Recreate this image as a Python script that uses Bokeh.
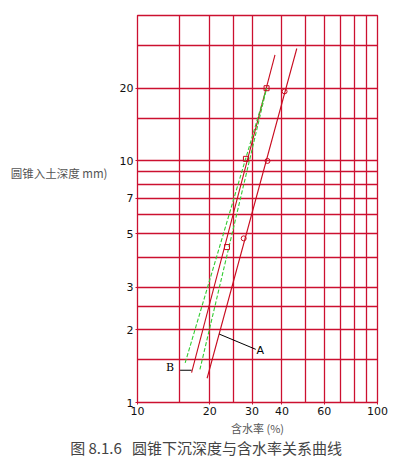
from bokeh.plotting import figure
from bokeh.models import (FixedTicker, Label, Range1d, PrintfTickFormatter,
                          LogAxis, CustomJSTickFormatter)
from bokeh.embed import file_html
from bokeh.resources import INLINE

# ---- data ----
x_major = [10, 20, 30, 40, 60, 100]
x_grid = [10, 15, 20, 25, 30, 40, 50, 60, 70, 80, 90, 100]
y_major = [1, 2, 3, 5, 7, 10, 20]
y_grid = [1, 1.5, 2, 2.5, 3, 4, 5, 6, 7, 8, 9, 10, 15, 20, 30, 40]

# fitted lines: water content (%) vs cone depth (mm)
red_a_x = [19.5, 46.1]
red_a_y = [1.26, 29.2]
red_b_x = [16.8, 37.4]
red_b_y = [1.33, 27.5]
green_1_x = [15.8, 34.5]
green_1_y = [1.46, 20.0]
green_2_x = [18.2, 34.5]
green_2_y = [1.37, 20.0]

# test points
sq_x = [23.6, 28.3, 34.5]
sq_y = [4.40, 10.2, 20.0]
ci_x = [27.7, 34.8, 41.0]
ci_y = [4.78, 10.0, 19.4]

# leader lines for labels A and B
lead_a_x = [21.9, 31.1]
lead_a_y = [1.92, 1.66]
lead_b_x = [15.05, 16.8]
lead_b_y = [1.36, 1.36]
lab_a = (31.3, 1.64)
lab_b = (14.2, 1.40)

# caption anchors (data positions along the axes)
y_caption_at = [8.9]
x_caption_at = [19.3]
y_caption = "圆锥入土深度 mm)"
x_caption = "图\u00a08.1.6\u00a0\u00a0\u00a0圆锥下沉深度与含水率关系曲线"

RED = "#cc1030"
LINE_RED = "#c80a1e"
GREEN = "#33cc33"

W, H = 394, 460
p = figure(width=W, height=H, x_axis_type="log", y_axis_type="log",
           x_range=Range1d(10, 100), y_range=Range1d(1, 40),
           output_backend="svg", toolbar_location=None,
           min_border_left=137, min_border_right=17,
           min_border_top=15, min_border_bottom=57)
p.background_fill_color = "white"
p.border_fill_color = "white"
p.outline_line_color = RED
p.outline_line_width = 1.3

# grid
p.xgrid.ticker = FixedTicker(ticks=x_grid)
p.ygrid.ticker = FixedTicker(ticks=y_grid)
for g in (p.xgrid[0], p.ygrid[0]):
    g.grid_line_color = RED
    g.grid_line_width = 1.3
    g.grid_line_alpha = 1.0
    g.minor_grid_line_color = None

# axes
p.xaxis.ticker = FixedTicker(ticks=x_major)
p.yaxis.ticker = FixedTicker(ticks=y_major)
p.xaxis.formatter = PrintfTickFormatter(format="%d")
p.yaxis.formatter = PrintfTickFormatter(format="%d")
for ax in (p.xaxis[0], p.yaxis[0]):
    ax.axis_line_color = RED
    ax.major_tick_line_color = RED
    ax.major_tick_out = 2
    ax.major_tick_in = 0
    ax.minor_tick_line_color = None
    ax.major_label_text_font = "DejaVu Sans"
    ax.major_label_text_font_size = "11px"
    ax.major_label_text_color = "#111111"
    ax.major_label_standoff = 2
p.xaxis.axis_label = "含水率 (%)"
p.xaxis.axis_label_text_font = "Noto Sans CJK SC"
p.xaxis.axis_label_text_font_size = "11px"
p.xaxis.axis_label_text_font_style = "normal"
p.xaxis.axis_label_text_color = "#555555"
p.xaxis.axis_label_standoff = 2

# horizontal y caption, as an extra (line-less) axis on the left
cap_y = LogAxis(ticker=FixedTicker(ticks=y_caption_at),
                formatter=CustomJSTickFormatter(code="return %r" % y_caption),
                axis_line_color=None, major_tick_line_color=None,
                minor_tick_line_color=None, major_label_standoff=3,
                major_label_text_font="Noto Sans CJK SC",
                major_label_text_font_size="11.5px",
                major_label_text_color="#555555")
p.add_layout(cap_y, "left")

# figure caption, as an extra axis below
cap_x = LogAxis(ticker=FixedTicker(ticks=x_caption_at),
                formatter=CustomJSTickFormatter(code="return %r" % x_caption),
                axis_line_color=None, major_tick_line_color=None,
                minor_tick_line_color=None, major_label_standoff=-8,
                major_label_text_font="Noto Sans CJK SC",
                major_label_text_font_size="15px",
                major_label_text_color="#444444")
p.add_layout(cap_x, "below")

# lines
p.line(red_a_x, red_a_y, line_color=LINE_RED, line_width=1.1)
p.line(red_b_x, red_b_y, line_color=LINE_RED, line_width=1.1)
p.line(green_1_x, green_1_y, line_color=GREEN, line_width=1.1, line_dash="4 2")
p.line(green_2_x, green_2_y, line_color=GREEN, line_width=1.1, line_dash="4 2")

p.scatter(sq_x, sq_y, marker="square", size=5, fill_color=None,
          line_color=LINE_RED, line_width=1)
p.scatter(ci_x, ci_y, marker="circle", size=5, fill_color=None,
          line_color=LINE_RED, line_width=1)

p.line(lead_a_x, lead_a_y, line_color="black", line_width=1)
p.line(lead_b_x, lead_b_y, line_color="black", line_width=1)
p.add_layout(Label(x=lab_a[0], y=lab_a[1], text="A", text_font="DejaVu Sans",
                   text_font_size="11px", text_baseline="middle",
                   text_align="left", text_color="black"))
p.add_layout(Label(x=lab_b[0], y=lab_b[1], text="B", text_font="DejaVu Serif",
                   text_font_size="11px", text_baseline="middle",
                   text_align="right", text_color="black"))

open("out.html", "w").write(file_html(p, INLINE))
